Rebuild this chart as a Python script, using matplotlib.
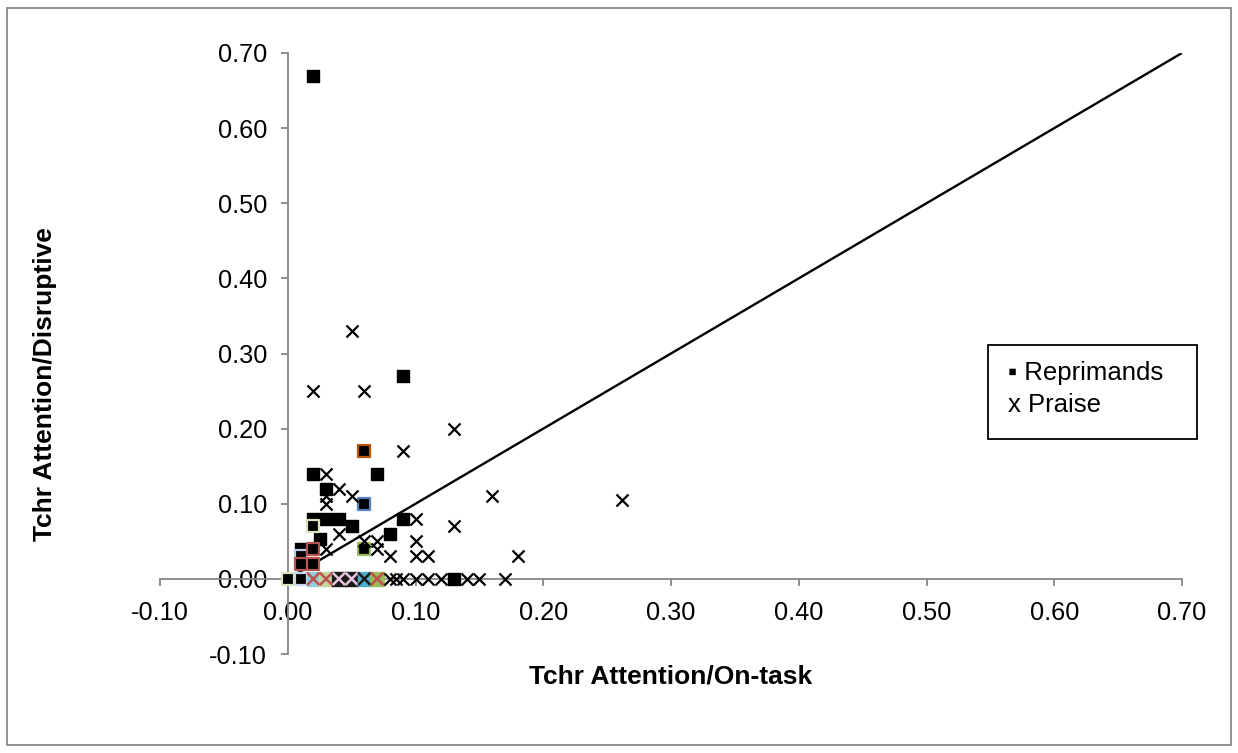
import matplotlib
matplotlib.use("Agg")
import matplotlib.pyplot as plt
from matplotlib.patches import Rectangle

# ---------------- data ----------------
# Reprimands (black squares)
rep_x = [0.02, 0.09, 0.02, 0.07, 0.03, 0.02, 0.03, 0.04, 0.05, 0.09, 0.08, 0.025, 0.01, 0.13]
rep_y = [0.67, 0.27, 0.14, 0.14, 0.12, 0.08, 0.08, 0.08, 0.07, 0.08, 0.06, 0.053, 0.04, 0.00]

# Reprimand points of other (coloured-edge) series
rep_col_x = [0.06, 0.06, 0.02, 0.06, 0.01, 0.02, 0.01, 0.02, 0.00, 0.01]
rep_col_y = [0.17, 0.10, 0.07, 0.04, 0.03, 0.04, 0.02, 0.02, 0.00, 0.00]
rep_col_edge = ["#B65708", "#4F81BD", "#D7E4BD", "#9BBB59", "#B9CDE5",
                "#B85450", "#B85450", "#B85450", "#D7E4BD", "#C6D9F1"]

# Coloured squares lying on the x axis with crosses over them
axis_sq_x = [0.02, 0.03, 0.04, 0.05, 0.06, 0.07]
axis_sq_y = [0.00, 0.00, 0.00, 0.00, 0.00, 0.00]
axis_sq_fill = ["#93CDDD", "#C3D69B", "#1A1A1A", "#1A1A1A", "#4BACC6", "#9BBB59"]
axis_x_col = ["#C0504D", "#C0504D", "#E6C3DC", "#E6C3DC", "#1A1A1A", "#C0504D"]

# Praise (x markers)
pr_x = [0.05, 0.02, 0.06, 0.13, 0.09, 0.16, 0.262, 0.03, 0.04, 0.03, 0.03, 0.05,
        0.10, 0.13, 0.04, 0.10, 0.06, 0.07, 0.03, 0.07, 0.08, 0.10, 0.11, 0.18,
        0.08, 0.085, 0.09, 0.10, 0.11, 0.12, 0.14, 0.15, 0.17]
pr_y = [0.33, 0.25, 0.25, 0.20, 0.17, 0.11, 0.105, 0.14, 0.12, 0.11, 0.10, 0.11,
        0.08, 0.07, 0.06, 0.05, 0.05, 0.05, 0.04, 0.04, 0.03, 0.03, 0.03, 0.03,
        0.00, 0.00, 0.00, 0.00, 0.00, 0.00, 0.00, 0.00, 0.00]

# Reference line (equal attention)
line_x = [0.0, 0.70]
line_y = [0.0, 0.70]

ticks = [-0.10, 0.00, 0.10, 0.20, 0.30, 0.40, 0.50, 0.60, 0.70]
x_title = "Tchr Attention/On-task"
y_title = "Tchr Attention/Disruptive"
legend_lines = ["\u25aa Reprimands", "x Praise"]

# ---------------- figure ----------------
W, H = 1238, 753
fig = plt.figure(figsize=(W / 100, H / 100), dpi=100)
plt.rcParams['font.family'] = ['Liberation Sans', 'DejaVu Sans']

def fx(px):
    return px / W

def fy(py):
    return 1 - py / H

ax = fig.add_axes([fx(160), fy(654), fx(1182) - fx(160), fy(53) - fy(654)])
ax.set_xlim(-0.10, 0.70)
ax.set_ylim(-0.10, 0.70)

spine_col = "#868686"
for s in ["top", "right"]:
    ax.spines[s].set_visible(False)
ax.spines["left"].set_position(("data", 0))
ax.spines["bottom"].set_position(("data", 0))
for s in ["left", "bottom"]:
    ax.spines[s].set_color(spine_col)
    ax.spines[s].set_linewidth(1.3)

ax.set_xticks(ticks)
ax.set_yticks(ticks)
ax.set_xticklabels([f"{t:.2f}" for t in ticks])
ax.set_yticklabels([f"{t:.2f}" for t in ticks])
ax.tick_params(axis="both", direction="out", length=5, width=1.3,
               color=spine_col, labelsize=18.3, labelcolor="black")
ax.tick_params(axis="y", pad=10)
ax.tick_params(axis="x", pad=11)

ax.plot(line_x, line_y, color="black", lw=1.7, zorder=2)

ax.scatter(rep_x, rep_y, marker="s", s=75, c="black", edgecolors="black",
           linewidths=1.0, zorder=3, clip_on=False)
ax.scatter(rep_col_x, rep_col_y, marker="s", s=75, c="black",
           edgecolors=rep_col_edge, linewidths=1.6, zorder=3, clip_on=False)
ax.scatter(axis_sq_x, axis_sq_y, marker="s", s=95, c=axis_sq_fill,
           edgecolors=axis_sq_fill, linewidths=1.0, zorder=3, clip_on=False)
ax.scatter(axis_sq_x, axis_sq_y, marker="x", s=80, c=axis_x_col,
           linewidths=1.8, zorder=4, clip_on=False)
ax.scatter(pr_x, pr_y, marker="x", s=75, c="black", linewidths=1.6,
           zorder=4, clip_on=False)

# axis titles
fig.text(fx(671), fy(676), x_title, ha="center", va="center",
         fontsize=19, fontweight="bold")
fig.text(fx(45), fy(384), y_title, ha="center", va="center",
         fontsize=19, fontweight="bold", rotation=90)

# legend-like text box
fig.add_artist(Rectangle((fx(988), fy(439)), fx(1197) - fx(988), fy(345) - fy(439),
                         transform=fig.transFigure, fill=False, ec="black", lw=1.3))
fig.text(fx(1008), fy(373), legend_lines[0], ha="left", va="center",
         fontsize=18.5, family=['Liberation Sans', 'DejaVu Sans'])
fig.text(fx(1008), fy(405), legend_lines[1], ha="left", va="center",
         fontsize=18.5, family=['Liberation Sans', 'DejaVu Sans'])

# outer chart border
fig.add_artist(Rectangle((fx(7), fy(745)), fx(1231) - fx(7), fy(8) - fy(745),
                         transform=fig.transFigure, fill=False, ec="#898989", lw=1.3))

fig.savefig("out.png", dpi=100)
